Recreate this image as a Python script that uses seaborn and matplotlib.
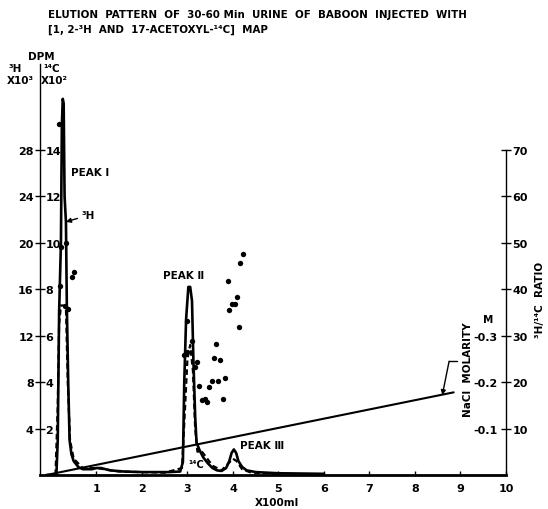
"""
Elution pattern, 30-60 min urine of baboon ([1,2-3H and 17-acetoxyl-14C] MAP)
"""
import matplotlib
matplotlib.use("Agg")
import matplotlib.pyplot as plt
import seaborn as sns

W, H = 548, 510

# 3H (DPM x10^3) against volume (x100 ml)
h3_x = [-0.1, 0.12, 0.15, 0.18, 0.22, 0.24, 0.26, 0.28, 0.30, 0.33, 0.35, 0.38,
        0.41, 0.45, 0.50, 0.60, 0.70, 0.90, 1.00, 1.10, 1.30, 1.60, 2.00, 2.60,
        2.84, 2.90, 2.93, 2.97, 3.02, 3.06, 3.10, 3.13, 3.17, 3.20, 3.27, 3.35,
        3.45, 3.55, 3.65, 3.75, 3.85, 3.92, 3.97, 4.02, 4.07, 4.12, 4.20, 4.30,
        4.50, 5.00, 6.00]
h3_y = [0.0, 0.0, 3.0, 14.0, 20.0, 30.0, 32.4, 32.0, 24.0, 21.8, 14.5, 8.0,
        3.0, 1.8, 1.2, 0.7, 0.5, 0.5, 0.6, 0.6, 0.4, 0.3, 0.25, 0.25,
        0.3, 1.1, 8.0, 13.4, 16.2, 16.2, 15.0, 10.0, 5.0, 2.8, 2.1, 1.5,
        1.0, 0.6, 0.4, 0.35, 0.6, 1.2, 1.9, 2.2, 1.9, 1.2, 0.7, 0.4,
        0.25, 0.15, 0.1]

# 14C (DPM x10^2)
c14_x = [0.10, 0.15, 0.18, 0.22, 0.28, 0.33, 0.37, 0.42, 0.50, 0.70, 1.00, 1.50,
         2.50, 2.88, 2.95, 3.00, 3.06, 3.12, 3.17, 3.22, 3.30, 3.40, 3.55, 3.75,
         3.90, 4.00, 4.08, 4.20, 4.40, 5.00]
c14_y = [0.0, 3.0, 6.5, 7.3, 7.3, 7.2, 4.0, 1.5, 0.7, 0.3, 0.3, 0.15,
         0.1, 0.3, 3.0, 5.0, 5.6, 4.5, 2.0, 1.0, 1.05, 0.8, 0.4, 0.2,
         0.5, 0.7, 0.6, 0.25, 0.1, 0.05]

# 3H/14C ratio points
ratio_x = [0.18, 0.21, 0.22, 0.33, 0.31, 0.37, 0.46, 0.50,
           2.99, 2.92, 2.99, 3.10, 3.20, 3.16, 3.25, 3.32, 3.38, 3.42, 3.47,
           3.54, 3.67, 3.82, 3.78, 3.58, 3.71, 3.63, 4.13, 3.91, 3.98, 4.04,
           4.09, 3.89, 4.15, 4.22]
ratio_y = [75.5, 40.7, 49.0, 50.0, 36.4, 35.8, 42.7, 43.8,
           33.2, 25.9, 26.5, 28.9, 24.4, 23.3, 19.2, 16.2, 16.4, 15.7, 19.0,
           20.3, 20.3, 20.9, 16.4, 25.2, 24.8, 28.2, 31.9, 35.6, 36.9, 36.9,
           38.4, 41.8, 45.7, 47.6]

# NaCl gradient (M)
nacl_x = [-0.1, 8.85]
nacl_m = [0.0, 0.178]

h3_ticks = [4, 8, 12, 16, 20, 24, 28]
c14_ticks = [2, 4, 6, 8, 10, 12, 14]
ratio_ticks = [10, 20, 30, 40, 50, 60, 70]
m_ticks = [0.1, 0.2, 0.3]
m_labels = ["-0.1", "-0.2", "-0.3"]
x_ticks = list(range(1, 11))

sns.set_style("ticks")
plt.rcParams["font.family"] = ["DejaVu Sans"]
plt.rcParams["font.weight"] = "bold"
plt.rcParams["text.color"] = "black"
plt.rcParams["xtick.color"] = "black"
plt.rcParams["ytick.color"] = "black"
plt.rcParams["xtick.labelcolor"] = "black"
plt.rcParams["ytick.labelcolor"] = "black"
plt.rcParams["axes.edgecolor"] = "black"

fig = plt.figure(figsize=(W / 100, H / 100), dpi=100)
ax = fig.add_axes([40 / W, 34 / H, 466 / W, 411 / H])

YTOP = 35.4
ax.set_xlim(-0.24, 10)
ax.set_ylim(0, YTOP)

# 3H curve
sns.lineplot(x=h3_x, y=h3_y, ax=ax, color="black", lw=1.9, sort=False)

ax.set_xticks(x_ticks)
ax.set_xticklabels([str(t) for t in x_ticks])
ax.set_yticks(h3_ticks)
ax.tick_params(axis="y", direction="inout", length=7, width=1, labelsize=8, pad=1)
ax.tick_params(axis="x", direction="in", length=3, width=1, labelsize=8, pad=6)
for s in ["top", "right"]:
    ax.spines[s].set_visible(False)
ax.spines["left"].set_linewidth(1.0)
ax.spines["bottom"].set_linewidth(2.0)

# 14C on the same left spine, labels inside
ax_c = ax.twinx()
ax_c.set_ylim(0, YTOP / 2)
ax_c.spines["right"].set_position(("axes", 0))
for s in ["top", "right", "left", "bottom"]:
    ax_c.spines[s].set_visible(False)
sns.lineplot(x=c14_x, y=c14_y, ax=ax_c, color="black", lw=1.6, sort=False,
             linestyle=(0, (2.5, 1.5)))
ax_c.set_yticks(c14_ticks)
ax_c.tick_params(axis="y", length=0, labelsize=8, pad=4)
ax_c.set_ylabel("")

# ratio axis on right
ax_r = ax.twinx()
ax_r.set_ylim(0, YTOP * 2.5)
for s in ["top", "left", "bottom"]:
    ax_r.spines[s].set_visible(False)
ax_r.spines["right"].set_bounds(0, 70)
ax_r.spines["right"].set_linewidth(1.0)
sns.scatterplot(x=ratio_x, y=ratio_y, ax=ax_r, color="black", s=15,
                edgecolor="black", linewidth=0)
ax_r.set_yticks(ratio_ticks)
ax_r.tick_params(axis="y", direction="inout", length=7, width=1, labelsize=8, pad=1)
ax_r.set_ylabel("")

# molarity, labels left of the right spine
ax_m = ax.twinx()
ax_m.set_ylim(0, YTOP * 0.025)
ax_m.yaxis.set_ticks_position("left")
ax_m.spines["left"].set_position(("axes", 1.0))
for s in ["top", "left", "bottom", "right"]:
    ax_m.spines[s].set_visible(False)
sns.lineplot(x=nacl_x, y=nacl_m, ax=ax_m, color="black", lw=1.5)
ax_m.set_yticks(m_ticks)
ax_m.set_yticklabels(m_labels)
ax_m.tick_params(axis="y", length=0, labelsize=8, pad=6)
ax_m.set_ylabel("")


def fpos(px, py):
    return px / W, 1 - py / H


# titles and axis texts
fig.text(*fpos(48, 15), "ELUTION  PATTERN  OF  30-60 Min  URINE  OF  BABOON  INJECTED  WITH",
         fontsize=7.4, va="center", ha="left")
fig.text(*fpos(48, 30), "[1, 2-³H  AND  17-ACETOXYL-¹⁴C]  MAP",
         fontsize=7.4, va="center", ha="left")
fig.text(*fpos(41, 57), "DPM", fontsize=7.5, ha="center", va="center")
fig.text(*fpos(15, 69), "³H", fontsize=7.5, ha="center", va="center")
fig.text(*fpos(20, 81), "X10³", fontsize=7.5, ha="center", va="center")
fig.text(*fpos(52, 69), "¹⁴C", fontsize=7.5, ha="center", va="center")
fig.text(*fpos(54, 81), "X10²", fontsize=7.5, ha="center", va="center")
fig.text(*fpos(277, 503), "X100ml", fontsize=7.5, ha="center", va="center")
fig.text(*fpos(488, 320), "M", fontsize=7.5, ha="center", va="center")
fig.text(*fpos(468, 370), "NaCl  MOLARITY", fontsize=7.5, ha="center", va="center",
         rotation=90)
fig.text(*fpos(540, 300), "³H/¹⁴C  RATIO", fontsize=7.5, ha="center", va="center",
         rotation=90)

# peak labels
fig.text(*fpos(71, 173), "PEAK Ⅰ", fontsize=7.5, ha="left", va="center")
fig.text(*fpos(163, 276), "PEAK Ⅱ", fontsize=7.5, ha="left", va="center")
fig.text(*fpos(240, 446), "PEAK Ⅲ", fontsize=7.5, ha="left", va="center")
fig.text(*fpos(196, 465), "¹⁴C", fontsize=7, ha="center", va="center")

ax.annotate("³H", xy=(0.33, 21.8), xytext=fpos(82, 216), textcoords="figure fraction",
            fontsize=7.5, ha="left", va="center",
            arrowprops=dict(arrowstyle="-|>", color="black", lw=1, shrinkA=1, shrinkB=0,
                            mutation_scale=7))

# bent pointer from the molarity label to the gradient line
ax_m.plot([8.92, 8.75], [0.245, 0.245], color="black", lw=1)
ax_m.annotate("", xy=(8.6, 0.172), xytext=(8.75, 0.245),
              arrowprops=dict(arrowstyle="-|>", color="black", lw=1, mutation_scale=7,
                              shrinkA=0, shrinkB=0))

fig.savefig("out.png", dpi=100)
